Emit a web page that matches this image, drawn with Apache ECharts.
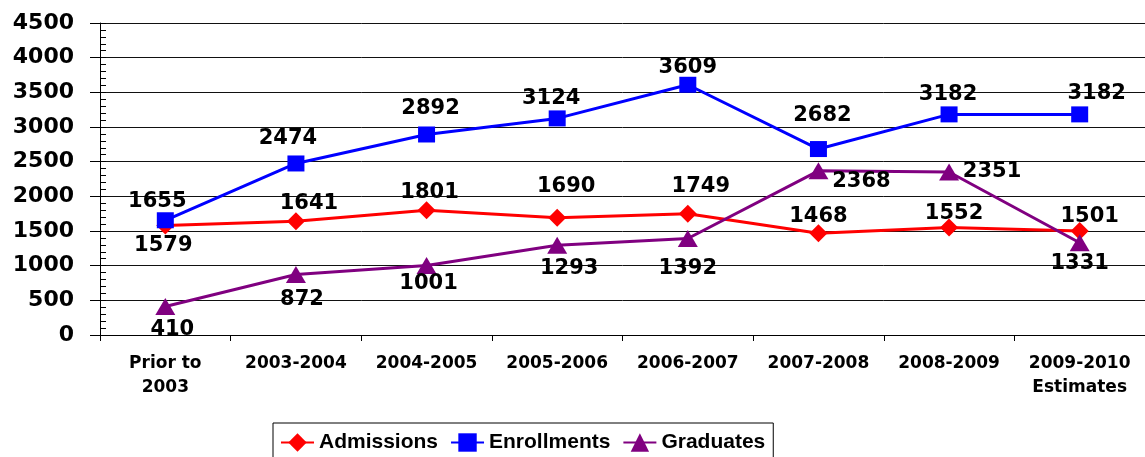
<!DOCTYPE html>
<html><head><meta charset="utf-8">
<script src="https://cdn.jsdelivr.net/npm/echarts@6/dist/echarts.min.js"></script>
<style>html,body{margin:0;padding:0;background:#fff}#c{width:1145px;height:457px}</style>
</head><body><div id="c"></div>
<script>
const categories = ['Prior to\n2003','2003-2004','2004-2005','2005-2006','2006-2007','2007-2008','2008-2009','2009-2010\nEstimates'];
const admissions = [1579,1641,1801,1690,1749,1468,1552,1501];
const enrollments = [1655,2474,2892,3124,3609,2682,3182,3182];
const graduates = [410,872,1001,1293,1392,2368,2351,1331];
const yTicks = [0,500,1000,1500,2000,2500,3000,3500,4000,4500];

// label placement (style): offset of each value label from its marker centre
const admOff = [[-2,20],[13,-18],[3,-18],[9,-31],[13,-27],[0,-17],[5,-14],[10,-14]];
const enrOff = [[-8,-19],[-8,-25],[4,-26],[-6,-20],[0,-17],[4,-34],[-1,-20],[17,-21]];
const graOff = [[7,23],[6,25],[2,18],[12,23],[0,30],[43,11],[43,0],[0,21]];

const labelFont = {fontFamily:'DejaVu Sans', fontWeight:'bold', fontSize:21, color:'#000'};
function mk(vals, offs){
  return vals.map((v,i)=>({value:v, label:{offset:offs[i]}}));
}
function series(name, vals, offs, color, symbol, size){
  return {
    name, type:'line', data: mk(vals, offs), symbol, symbolSize:size,
    lineStyle:{color, width:3}, itemStyle:{color},
    label:Object.assign({show:true, position:'inside'}, labelFont),
    emphasis:{disabled:true}, animation:false, z: 3
  };
}
const chart = echarts.init(document.getElementById('c'));
chart.setOption({
  backgroundColor:'#fff',
  animation:false,
  grid:{left:100, top:23, width:1056, height:312},
  legend:{
    left:273, top:423, padding:[9,8,8,7], itemGap:12, itemWidth:33, itemHeight:23,
    borderColor:'#000', borderWidth:1,
    textStyle:{fontFamily:'Liberation Sans', fontWeight:'bold', fontSize:21, color:'#000'},
    data:['Admissions','Enrollments','Graduates']
  },
  xAxis:{
    type:'category', data:categories, boundaryGap:true,
    axisLine:{lineStyle:{color:'#000', width:1}},
    axisTick:{show:true, length:6, lineStyle:{color:'#000'}},
    axisLabel:{fontFamily:'DejaVu Sans', fontWeight:'bold', fontSize:17, color:'#000', lineHeight:24, margin:17, interval:0},
    splitLine:{show:false}
  },
  yAxis:[{
    type:'value', min:yTicks[0], max:yTicks[yTicks.length-1], interval:500,
    axisLine:{show:true, lineStyle:{color:'#000', width:1}},
    axisTick:{show:true, length:10, lineStyle:{color:'#000'}},
    axisLabel:{fontFamily:'DejaVu Sans', fontWeight:'bold', fontSize:22, color:'#000', margin:26, formatter:v=>String(v)},
    splitLine:{show:true, lineStyle:{color:'#111', width:1}}
  },{
    type:'value', min:yTicks[0], max:yTicks[yTicks.length-1], interval:100, position:'left',
    axisLine:{show:false},
    axisTick:{show:true, inside:true, length:6, lineStyle:{color:'#000'}},
    axisLabel:{show:false}, splitLine:{show:false}
  }],
  series:[
    series('Admissions', admissions, admOff, '#FF0000', 'diamond', [18,18]),
    series('Enrollments', enrollments, enrOff, '#0000FF', 'rect', [17,16]),
    series('Graduates', graduates, graOff, '#800080', 'triangle', [20,17])
  ]
});
</script></body></html>
